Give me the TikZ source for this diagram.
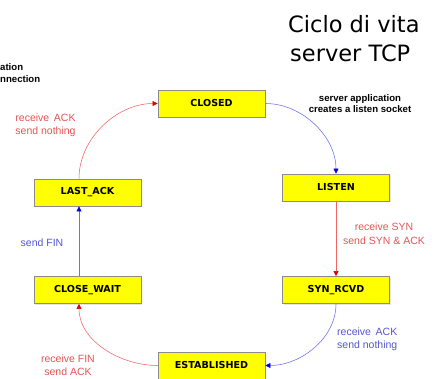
\documentclass[tikz,border=0pt]{standalone}
\usepackage{fontspec}
\setmainfont{Liberation Sans}
\newfontfamily\titlefont{DejaVu Sans}
\newfontfamily\statefont{DejaVu Sans}
\usetikzlibrary{arrows.meta,shadows}

\definecolor{stateyellow}{RGB}{255,255,0}
\definecolor{stateborder}{RGB}{140,140,140}
\definecolor{redline}{RGB}{240,100,100}
\definecolor{redhead}{RGB}{225,0,0}
\definecolor{redtext}{RGB}{228,85,85}
\definecolor{blueline}{RGB}{110,110,240}
\definecolor{bluehead}{RGB}{0,0,220}
\definecolor{bluetext}{RGB}{85,85,210}

\tikzset{
  state/.style={draw=stateborder, line width=0.8pt, fill=stateyellow,
    minimum width=107pt, minimum height=27pt, inner sep=0pt,
    font=\statefont\bfseries\fontsize{9.6}{11}\selectfont,
    drop shadow={opacity=0.2, shadow xshift=1.2pt, shadow yshift=-1.2pt}},
  redarrow/.style={draw=redline, line width=0.55pt,
    -{Triangle[length=5pt,width=5pt,color=redhead]}},
  bluearrow/.style={draw=blueline, line width=0.55pt,
    -{Triangle[length=5pt,width=5pt,color=bluehead]}},
  redlabel/.style={text=redtext, align=center, inner sep=0pt,
    font=\fontsize{10.5}{13.5}\selectfont},
  bluelabel/.style={text=bluetext, align=center, inner sep=0pt,
    font=\fontsize{10.5}{13.5}\selectfont},
  notelabel/.style={text=black, align=center, inner sep=0pt,
    font=\bfseries\fontsize{9.6}{11.5}\selectfont},
  titletext/.style={anchor=base west, inner sep=0pt,
    font=\titlefont\fontsize{22.5}{27}\selectfont}
}

\begin{document}
\begin{tikzpicture}[x=1pt,y=1pt]
\useasboundingbox[fill=white] (0,0) rectangle (439,378);

% title
\node[titletext] (title1) at (288,345) {Ciclo di vita};
\node[titletext] (title2) at (290,316) {server TCP};

% states
\node[state] (closed)      at (211.5,274.5) {CLOSED};
\node[state] (listen)      at (336,190.5)   {LISTEN};
\node[state] (synrcvd)     at (336,88)      {SYN\_RCVD};
\node[state] (established) at (211.5,12.5)  {ESTABLISHED};
\node[state] (closewait)   at (87.5,88)     {CLOSE\_WAIT};
\node[state] (lastack)     at (87.5,185.5)  {LAST\_ACK};

% transitions
\draw[bluearrow] (closed.east) to[out=0,in=90,looseness=0.95] (listen.north);
\draw[redarrow] (listen.south) -- (synrcvd.north);
\draw[bluearrow] (synrcvd.south) to[out=-90,in=0,looseness=0.95] (established.east);
\draw[redarrow] (established.west) to[out=180,in=-90,looseness=0.95] ([xshift=-8.5pt]closewait.south);
\draw[bluearrow] ([xshift=-8.5pt]closewait.north) -- ([xshift=-8.5pt]lastack.south);
\draw[redarrow] ([xshift=-8.5pt]lastack.north) to[out=90,in=180,looseness=0.95] (closed.west);

% transition labels
\node[notelabel] (lblopen) at (360,274.5) {server application\\creates a listen socket};
\node[redlabel] (lblsyn) at (384,144.5) {receive SYN\\send SYN \& ACK};
\node[bluelabel, anchor=west, align=left] (lblack) at (337,38.5) {receive\, ACK\\send nothing};
\node[redlabel] (lblfin) at (68,13) {receive FIN\\send ACK};
\node[bluelabel] (lblsendfin) at (42,135) {send FIN};
\node[redlabel] (lbllast) at (45.5,252.5) {receive\, ACK\\send nothing};
\node[notelabel, anchor=west, align=left] (lblclose) at (0,305) {ation\\nnection};
\end{tikzpicture}
\end{document}
